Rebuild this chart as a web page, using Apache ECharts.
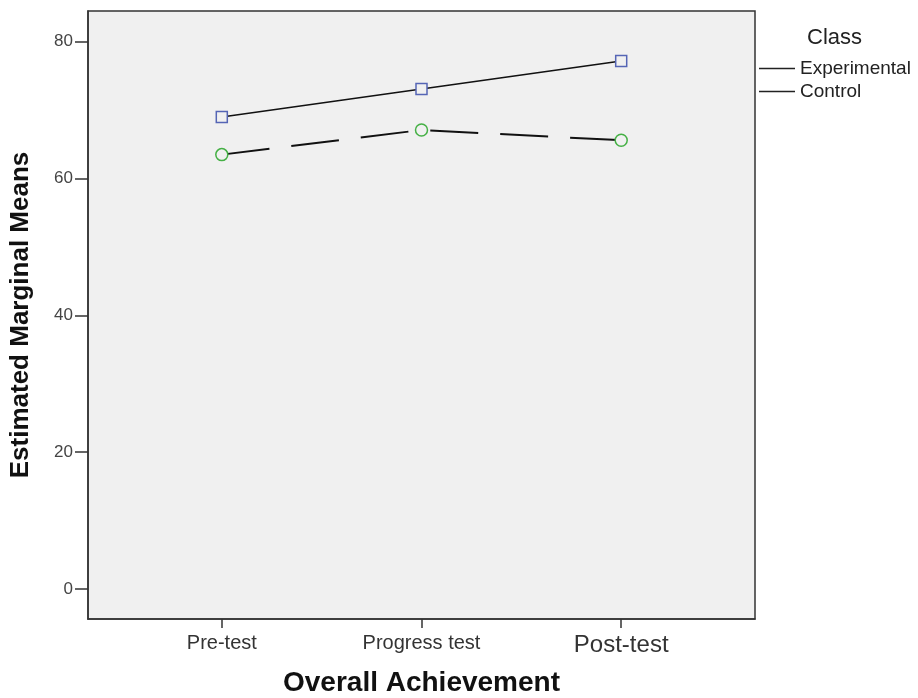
<!DOCTYPE html>
<html><head><meta charset="utf-8">
<script src="https://cdn.jsdelivr.net/npm/echarts@6/dist/echarts.min.js"></script>
<style>html,body{margin:0;padding:0;background:#fff}#c{width:918px;height:698px}</style>
</head><body><div id="c"></div>
<script>
var categories = ['Pre-test', 'Progress test', 'Post-test'];
var experimental = [69.0, 73.1, 77.2];
var control = [63.5, 67.1, 65.6];
var yTicks = [0, 20, 40, 60, 80];
var seriesNames = ['Experimental', 'Control'];

function pts(vals){ return vals.map(function(v,i){ return [i+1, v]; }); }
var font = 'Liberation Sans, Arial, sans-serif';
var chart = echarts.init(document.getElementById('c'));
chart.setOption({
  animation: false,
  textStyle: {fontFamily: font},
  title: {text: 'Class', left: 807, top: 27, padding: 0, textStyle: {fontSize: 22, fontWeight: 'normal', color: '#222', fontFamily: font}},
  legend: {
    orient: 'vertical', left: 759, top: 59, itemGap: 4, padding: 0,
    icon: 'rect', itemWidth: 36, itemHeight: 1.5,
    textStyle: {fontSize: 19, color: '#222', fontFamily: font},
    data: seriesNames.map(function(n){ return {name: n, itemStyle: {color: '#222', borderWidth: 0}}; })
  },
  grid: {left: 88, right: 163, top: 11, bottom: 79, outerBoundsMode: 'none', containLabel: false,
    show: true, backgroundColor: '#f0f0f0', borderColor: '#333', borderWidth: 1.5},
  xAxis: {
    type: 'value', min: 0.33, max: 3.67,
    name: 'Overall Achievement', nameLocation: 'middle', nameGap: 50,
    nameTextStyle: {fontSize: 28, fontWeight: 'bold', color: '#111', fontFamily: font},
    axisLine: {show: true, onZero: false, lineStyle: {color: '#333', width: 1.5}},
    axisTick: {show: true, customValues: [1,2,3], length: 9, lineStyle: {color: '#333', width: 1.5}},
    axisLabel: {customValues: [1,2,3], margin: 14, color: '#333', fontSize: 20,
      formatter: function(v){ var s = categories[Math.round(v)-1]; return Math.round(v)===3 ? '{b|'+s+'}' : s; },
      rich: {b: {fontSize: 24, color: '#333', fontFamily: font}}},
    splitLine: {show: false}
  },
  yAxis: {
    type: 'value', min: -4.4, max: 84.5,
    name: 'Estimated Marginal Means', nameLocation: 'middle', nameGap: 54,
    nameTextStyle: {fontSize: 26, fontWeight: 'bold', color: '#111', fontFamily: font},
    axisLine: {show: true, lineStyle: {color: '#333', width: 1.5}},
    axisTick: {show: true, customValues: yTicks, length: 13, lineStyle: {color: '#333', width: 1.5}},
    axisLabel: {customValues: yTicks, margin: 15, color: '#444', fontSize: 17},
    splitLine: {show: false}
  },
  series: [
    {name: seriesNames[0], type: 'line', data: pts(experimental), symbol: 'rect', symbolSize: 11,
     lineStyle: {color: '#111', width: 1.5},
     itemStyle: {color: '#f0f0f0', borderColor: '#5565b5', borderWidth: 1.5}},
    {name: seriesNames[1], type: 'line', data: pts(control), symbol: 'circle', symbolSize: 12,
     lineStyle: {color: '#111', width: 2, type: [48, 22]},
     itemStyle: {color: '#f0f0f0', borderColor: '#45b045', borderWidth: 1.5}}
  ]
});
</script></body></html>
